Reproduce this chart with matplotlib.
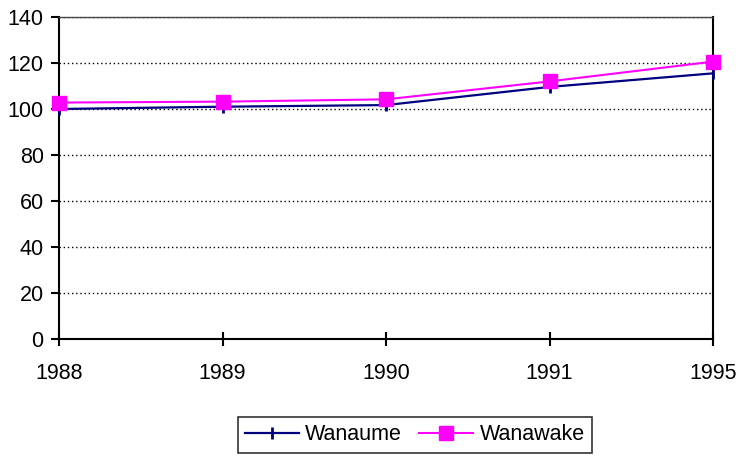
import matplotlib.pyplot as plt

years = ["1988", "1989", "1990", "1991", "1995"]
wanaume = [100, 101, 101.7, 109.6, 115.5]
wanawake = [102.8, 103.2, 104.2, 112, 120.6]
y_ticks = [0, 20, 40, 60, 80, 100, 120, 140]

plt.rcParams["font.family"] = ["Liberation Sans", "DejaVu Sans"]
plt.rcParams["font.size"] = 15.5

fig = plt.figure(figsize=(7.4, 4.57), dpi=100)
ax = fig.add_axes([59 / 740, 1 - 339 / 457, 654 / 740, 322 / 457])

x = list(range(len(years)))
ax.plot(x, wanaume, color="#000080", linewidth=1.6, marker="|",
        markersize=9, markeredgewidth=2, label="Wanaume", clip_on=False, zorder=3)
ax.plot(x, wanawake, color="#ff00ff", linewidth=1.5, marker="s",
        markersize=10, label="Wanawake", clip_on=False, zorder=4)

ax.set_xlim(0, len(years) - 1)
ax.set_ylim(0, 140)
ax.set_xticks(x)
ax.set_xticklabels(years)
ax.set_yticks(y_ticks)
ax.yaxis.grid(True, linestyle=(0, (1, 2)), color="black", linewidth=1)
ax.tick_params(axis="x", direction="inout", length=10, width=1.5, pad=12)
ax.tick_params(axis="y", direction="out", length=6, width=1.5, pad=5)
for side in ["left", "bottom", "right"]:
    ax.spines[side].set_linewidth(1.5)
ax.spines["top"].set_linewidth(1.0)
ax.spines["top"].set_color("#444444")

leg = fig.legend(loc="center", bbox_to_anchor=(415 / 740, 1 - 435 / 457), ncol=2,
                 frameon=True, fancybox=False, edgecolor="black", borderpad=0.35,
                 handlelength=2.5, columnspacing=0.8, handletextpad=0.3)
leg.get_frame().set_linewidth(1.2)

fig.savefig("out.png", dpi=100)
